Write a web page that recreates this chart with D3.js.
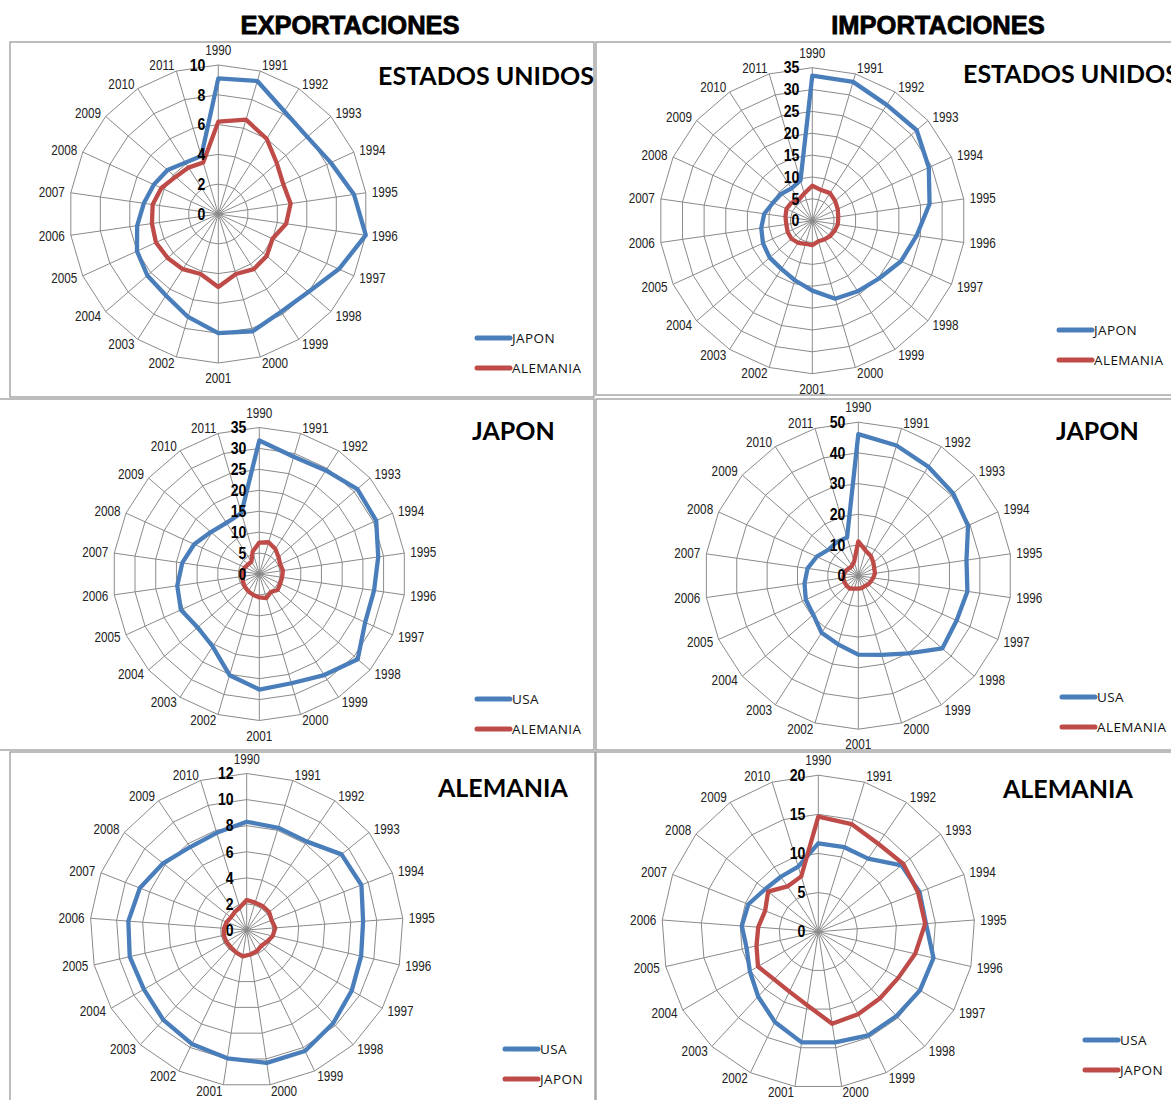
<!DOCTYPE html>
<html>
<head>
<meta charset="utf-8">
<script src="https://cdn.jsdelivr.net/npm/d3@7"></script>
<style>
  html, body { margin: 0; padding: 0; background: #fff; }
  svg { display: block; }
</style>
</head>
<body>
<script>
// Category axes (years)
const years22 = ["1990","1991","1992","1993","1994","1995","1996","1997","1998","1999","2000",
                 "2001","2002","2003","2004","2005","2006","2007","2008","2009","2010","2011"];
const years21 = ["1990","1991","1992","1993","1994","1995","1996","1997","1998","1999","2000",
                 "2001","2002","2003","2004","2005","2006","2007","2008","2009","2010"];

// Radial tick labels
const ticksExpUSA = [0, 2, 4, 6, 8, 10];
const ticksImpUSA = [0, 5, 10, 15, 20, 25, 30, 35];
const ticksExpJPN = [0, 5, 10, 15, 20, 25, 30, 35];
const ticksImpJPN = [0, 10, 20, 30, 40, 50];
const ticksExpDEU = [0, 2, 4, 6, 8, 10, 12];
const ticksImpDEU = [0, 5, 10, 15, 20];

// Exportaciones - Estados Unidos
const expUSA_japon    = [9.1, 9.3, 8.2, 7.9, 8.3, 9.2, 10.0, 8.9, 8.0, 7.8, 8.2, 8.0, 7.2, 6.5, 6.3, 6.0, 5.5, 5.05, 4.75, 4.5, 4.1, 4.05];
const expUSA_alemania = [6.2, 6.6, 6.0, 5.2, 4.8, 4.9, 4.6, 4.0, 4.3, 4.4, 4.2, 4.9, 4.2, 4.4, 4.5, 4.6, 4.5, 4.45, 4.2, 3.8, 3.7, 3.6];
// Importaciones - Estados Unidos
const impUSA_japon    = [33.2, 33.1, 31.5, 31.6, 29.3, 27.1, 24.1, 22.3, 20.2, 19.2, 18.6, 16.0, 14.2, 13.1, 12.9, 12.4, 11.8, 11.1, 9.9, 9.4, 8.8, 9.6];
const impUSA_alemania = [8.0, 7.3, 7.5, 6.9, 6.4, 6.0, 5.9, 5.6, 5.4, 5.1, 4.9, 5.6, 5.5, 6.0, 6.3, 6.2, 6.0, 6.2, 6.5, 6.3, 5.7, 6.5];
// Exportaciones - Japon
const expJPN_usa      = [31.9, 29.2, 29.4, 31.0, 30.7, 28.7, 27.7, 27.8, 31.1, 28.7, 27.2, 27.6, 25.2, 20.6, 19.5, 20.6, 19.8, 18.6, 17.1, 15.3, 14.5, 15.2];
const expJPN_alemania = [7.5, 7.9, 7.1, 6.1, 5.5, 5.7, 5.5, 5.5, 5.8, 5.1, 6.0, 5.6, 5.2, 4.9, 4.6, 4.3, 4.1, 4.0, 3.8, 3.5, 3.5, 5.6];
// Importaciones - Japon
const impJPN_usa      = [46.1, 44.2, 42.2, 40.9, 39.3, 35.6, 35.9, 35.2, 36.2, 30.1, 26.9, 25.7, 23.3, 22.1, 19.4, 18.8, 17.7, 16.7, 14.9, 12.9, 13.0, 13.0];
const impJPN_alemania = [11.2, 8.5, 7.6, 6.5, 5.7, 5.5, 4.9, 4.5, 4.3, 4.0, 4.2, 4.2, 4.4, 5.0, 5.0, 5.0, 4.9, 4.7, 4.3, 3.8, 3.8, 4.8];
// Exportaciones - Alemania
const expDEU_usa      = [8.3, 8.2, 8.2, 9.3, 9.45, 8.95, 9.0, 9.3, 9.75, 10.3, 10.3, 9.95, 9.7, 9.4, 9.1, 9.2, 9.1, 8.8, 8.2, 7.7, 7.8];
const expDEU_japon    = [2.3, 2.2, 2.2, 2.2, 2.05, 2.2, 2.05, 1.8, 1.65, 1.8, 1.9, 2.05, 1.9, 1.8, 1.8, 1.8, 1.75, 1.65, 1.55, 1.65, 1.8];
// Importaciones - Alemania
const impDEU_usa      = [11.3, 11.3, 11.3, 13.6, 13.9, 13.8, 15.1, 15.0, 14.7, 14.7, 14.3, 14.3, 12.8, 11.3, 10.1, 9.4, 9.8, 9.6, 8.7, 8.5, 8.7];
const impDEU_japon    = [14.7, 14.4, 13.6, 13.9, 13.7, 13.7, 12.7, 11.8, 11.6, 11.7, 11.9, 9.5, 8.5, 8.3, 8.9, 8.1, 7.7, 7.3, 8.2, 7.0, 7.4];

const BLUE = "#4a7ebb";
const RED  = "#be4b48";
const GRID = "#8a8a8a";
const SANS = "'Liberation Sans', Arial, sans-serif";
const NARROW_SCALE = 0.84;   // horizontal squeeze to get a narrow face

const W = 1171, H = 1100;
const svg = d3.select("body").append("svg").attr("width", W).attr("height", H);

// Panel frames
const frames = [
  {x: 10,  y: 42,  w: 584, h: 355},
  {x: 596, y: 42,  w: 600, h: 353},
  {x: -5,  y: 399, w: 599, h: 351},
  {x: 596, y: 399, w: 600, h: 351},
  {x: 10,  y: 752, w: 585, h: 400},
  {x: 596, y: 752, w: 600, h: 400}
];
svg.append("g").selectAll("rect").data(frames).join("rect")
  .attr("x", d => d.x).attr("y", d => d.y).attr("width", d => d.w).attr("height", d => d.h)
  .attr("fill", "none").attr("stroke", "#9a9a9a").attr("stroke-width", 1.3);

// Column headers
svg.append("g").selectAll("text")
  .data([{t: "EXPORTACIONES", x: 350}, {t: "IMPORTACIONES", x: 938}])
  .join("text")
  .attr("x", d => d.x).attr("y", 34)
  .attr("text-anchor", "middle")
  .attr("font-family", SANS)
  .attr("font-weight", "bold").attr("font-size", 25.5)
  .attr("stroke", "#000").attr("stroke-width", 0.8)
  .text(d => d.t);

const panels = [
  {cx: 218.3, cy: 214,   radius: 149,   max: 10, ticks: ticksExpUSA, cats: years22,
   title: "ESTADOS UNIDOS", tx: 378, ty: 85, lx: 477, ly: 338,
   series: [{name: "JAPON", values: expUSA_japon, color: BLUE}, {name: "ALEMANIA", values: expUSA_alemania, color: RED}]},
  {cx: 812.3, cy: 220.7, radius: 153,   max: 35, ticks: ticksImpUSA, cats: years22,
   title: "ESTADOS UNIDOS", tx: 963, ty: 83, lx: 1059, ly: 330,
   series: [{name: "JAPON", values: impUSA_japon, color: BLUE}, {name: "ALEMANIA", values: impUSA_alemania, color: RED}]},
  {cx: 259.3, cy: 574,   radius: 146.5, max: 35, ticks: ticksExpJPN, cats: years22,
   title: "JAPON", tx: 472, ty: 440, lx: 477, ly: 699,
   series: [{name: "USA", values: expJPN_usa, color: BLUE}, {name: "ALEMANIA", values: expJPN_alemania, color: RED}]},
  {cx: 858.3, cy: 575.7, radius: 153.5, max: 50, ticks: ticksImpJPN, cats: years22,
   title: "JAPON", tx: 1056, ty: 440, lx: 1062, ly: 697,
   series: [{name: "USA", values: impJPN_usa, color: BLUE}, {name: "ALEMANIA", values: impJPN_alemania, color: RED}]},
  {cx: 246.7, cy: 930,   radius: 156.5, max: 12, ticks: ticksExpDEU, cats: years21,
   title: "ALEMANIA", tx: 438, ty: 797, lx: 505, ly: 1049,
   series: [{name: "USA", values: expDEU_usa, color: BLUE}, {name: "JAPON", values: expDEU_japon, color: RED}]},
  {cx: 818.3, cy: 931.7, radius: 156.5, max: 20, ticks: ticksImpDEU, cats: years21,
   title: "ALEMANIA", tx: 1003, ty: 798, lx: 1085, ly: 1040,
   series: [{name: "USA", values: impDEU_usa, color: BLUE}, {name: "JAPON", values: impDEU_japon, color: RED}]}
];

function drawRadar(p) {
  const n = p.cats.length;
  const g = svg.append("g").attr("transform", `translate(${p.cx},${p.cy})`);
  const r = d3.scaleLinear().domain([0, p.max]).range([0, p.radius]);
  const a = d3.scaleLinear().domain([0, n]).range([0, 2 * Math.PI]);
  const web = d3.lineRadial()
    .angle((d, i) => a(i))
    .radius(d => r(d))
    .curve(d3.curveLinearClosed);
  const R = r(p.max);

  // polygon gridlines
  g.append("g").selectAll("path").data(p.ticks.filter(t => t > 0)).join("path")
    .attr("d", t => web(p.cats.map(() => t)))
    .attr("fill", "none").attr("stroke", GRID).attr("stroke-width", 1);

  // spokes
  g.append("g").selectAll("line").data(p.cats).join("line")
    .attr("x1", 0).attr("y1", 0)
    .attr("x2", (d, i) => R * Math.sin(a(i)))
    .attr("y2", (d, i) => -R * Math.cos(a(i)))
    .attr("stroke", GRID).attr("stroke-width", 1);

  // series
  g.append("g").selectAll("path").data(p.series).join("path")
    .attr("d", s => web(s.values))
    .attr("fill", "none").attr("stroke", s => s.color)
    .attr("stroke-width", 4.3).attr("stroke-linejoin", "round");

  // category labels around the web: side labels hang off the spoke end by their
  // inner edge, labels on the vertical spokes sit centred above / below it
  g.append("g").selectAll("text").data(p.cats).join("text")
    .attr("font-family", SANS).attr("font-size", 14).attr("fill", "#222")
    .attr("text-anchor", "middle").attr("dy", "0.36em")
    .text(d => d)
    .each(function(d, i) {
      const ang = a(i), s = Math.sin(ang), c = Math.cos(ang);
      const w = this.getComputedTextLength() * NARROW_SCALE;
      let x, y;
      if (Math.abs(s) < 0.01) {
        x = 0; y = -(R + 15) * c;
      } else {
        x = (R + 6) * s + Math.sign(s) * w / 2;
        y = -(R + 6) * c;
      }
      d3.select(this).attr("transform", `translate(${x},${y}) scale(${NARROW_SCALE},1)`);
    });

  // radial tick labels along the first spoke
  g.append("g").selectAll("text").data(p.ticks).join("text")
    .attr("transform", t => `translate(-13,${-r(t)}) scale(0.88,1)`)
    .attr("dy", "0.36em")
    .attr("text-anchor", "end")
    .attr("font-family", SANS).attr("font-weight", "bold").attr("font-size", 16)
    .attr("fill", "#000")
    .text(t => t);

  // panel title
  svg.append("text")
    .attr("x", p.tx).attr("y", p.ty)
    .attr("font-family", "Lato, 'Open Sans', sans-serif")
    .attr("font-weight", "bold").attr("font-size", 25)
    .attr("fill", "#000")
    .text(p.title);

  // legend
  const lg = svg.append("g").attr("transform", `translate(${p.lx},${p.ly})`);
  p.series.forEach((s, k) => {
    lg.append("line").attr("x1", 0).attr("x2", 33).attr("y1", k * 30).attr("y2", k * 30)
      .attr("stroke", s.color).attr("stroke-width", 5).attr("stroke-linecap", "round");
    lg.append("text").attr("x", 35).attr("y", k * 30 + 4.5)
      .attr("font-family", "'Open Sans', sans-serif").attr("font-size", 13.5)
      .attr("letter-spacing", 0.4).attr("fill", "#111")
      .text(s.name);
  });
}

panels.forEach(drawRadar);
</script>
</body>
</html>
